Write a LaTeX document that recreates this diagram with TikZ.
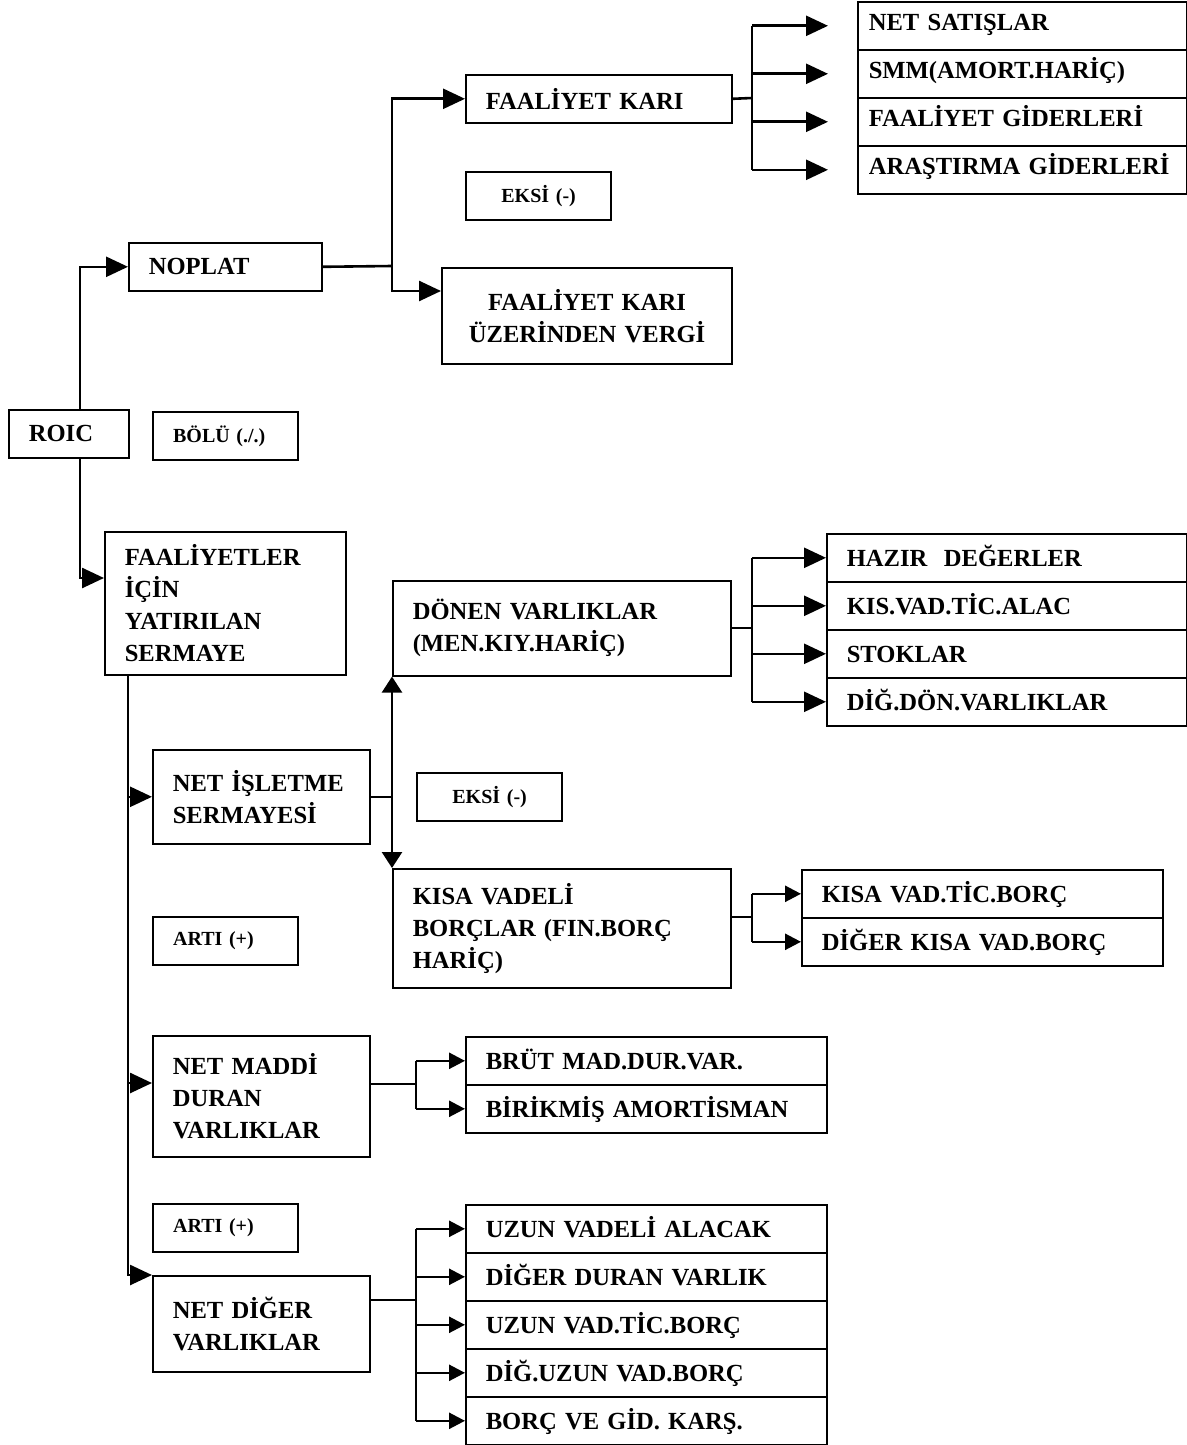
\documentclass[tikz,border=0pt]{standalone}
\usepackage{fontspec}
\setmainfont{Liberation Serif}
\usetikzlibrary{arrows.meta,calc}
\begin{document}
\hyphenpenalty=10000
\exhyphenpenalty=10000
\begin{tikzpicture}[x=0.5pt,y=-0.5pt,
  box/.style={draw, line width=0.8pt, anchor=north west, inner xsep=10pt, inner ysep=0pt, align=left,
    font=\fontsize{12.3}{16}\selectfont\bfseries},
  lab/.style={draw, line width=1.1pt, anchor=north west, inner xsep=10pt, inner ysep=0pt, align=left,
    text width=52.5pt, minimum height=24pt, font=\fontsize{10}{12}\selectfont\bfseries},
  row/.style={box, minimum height=24pt, text width=160.5pt, text height=10pt, text depth=1pt},
  conn/.style={line width=1.3pt},
  arr/.style={conn,-{Triangle[length=11pt,width=10pt]}},
  sarr/.style={conn,-{Triangle[length=8pt,width=8pt]}},
  darr/.style={conn,{Triangle[length=8pt,width=10pt]}-{Triangle[length=8pt,width=10pt]}}]
\useasboundingbox (0,0) rectangle (1187,1445);

% main boxes
\node[box, text width=40pt, minimum height=24pt] (roic) at (8,409) {ROIC};
\node[lab] (bolu) at (152,411) {BÖLÜ (./.)};
\node[box, text width=76.5pt, minimum height=24pt] (noplat) at (128,242) {NOPLAT};
\node[box, text width=113pt, minimum height=24pt] (fk) at (465,74) {FAALİYET KARI};
\node[lab, align=center] (eksia) at (465,171) {EKSİ (-)};
\node[box, line width=1.1pt, text width=125pt, minimum height=48pt, align=center] (fkv) at (441,267) {FAALİYET KARI\\ÜZERİNDEN VERGİ};
\node[box, text width=100.5pt, minimum height=71.5pt] (fiys) at (104,531) {FAALİYETLER\\İÇİN\\YATIRILAN\\SERMAYE};
\node[box, text width=88.5pt, minimum height=47pt] (nis) at (152,749) {NET İŞLETME\\SERMAYESİ};
\node[lab, align=center] (eksib) at (416,772) {EKSİ (-)};
\node[box, text width=149pt, minimum height=47.5pt] (donen) at (392,580) {DÖNEN VARLIKLAR\\(MEN.KIY.HARİÇ)};
\node[box, text width=149pt, minimum height=59.5pt] (kvb) at (392,868) {KISA VADELİ\\BORÇLAR (FIN.BORÇ\\HARİÇ)};
\node[lab] (artia) at (152,916) {ARTI (+)};
\node[box, text width=88.5pt, minimum height=60.5pt] (nmdv) at (152,1035) {NET MADDİ\\DURAN\\VARLIKLAR};
\node[lab] (artib) at (152,1203) {ARTI (+)};
\node[box, text width=88.5pt, minimum height=48pt] (ndv) at (152,1275) {NET DİĞER\\VARLIKLAR};

% list 1
\begin{scope}[every node/.style={row, inner xsep=5.5pt, text width=153.5pt, text height=9pt, text depth=4.5pt}]
\node (l1a) at (857,1) {NET SATIŞLAR};
\node (l1b) at (857,49) {SMM(AMORT.HARİÇ)};
\node (l1c) at (857,97) {FAALİYET GİDERLERİ};
\node (l1d) at (857,145) {ARAŞTIRMA GİDERLERİ};
\end{scope}
% list 2
\begin{scope}[every node/.style={row, text width=160pt}]
\node (l2a) at (826,533) {HAZIR~ DEĞERLER};
\node (l2b) at (826,581) {KIS.VAD.TİC.ALAC};
\node (l2c) at (826,629) {STOKLAR};
\node (l2d) at (826,677) {DİĞ.DÖN.VARLIKLAR};
\end{scope}
% list 3
\node[row] (l3a) at (801,869) {KISA VAD.TİC.BORÇ};
\node[row] (l3b) at (801,917) {DİĞER KISA VAD.BORÇ};
% list 4
\node[row] (l4a) at (465,1036) {BRÜT MAD.DUR.VAR.};
\node[row] (l4b) at (465,1084) {BİRİKMİŞ AMORTİSMAN};
% list 5
\node[row] (l5a) at (465,1204) {UZUN VADELİ ALACAK};
\node[row] (l5b) at (465,1252) {DİĞER DURAN VARLIK};
\node[row] (l5c) at (465,1300) {UZUN VAD.TİC.BORÇ};
\node[row] (l5d) at (465,1348) {DİĞ.UZUN VAD.BORÇ};
\node[row] (l5e) at (465,1396) {BORÇ VE GİD. KARŞ.};

% trunk coordinates
\coordinate (xa) at (80,0);
\coordinate (xb) at (128,0);
\coordinate (b1) at (392,266);
\coordinate (b2) at (752,98);
\coordinate (b3) at (752,628);
\coordinate (b4) at (752,917);
\coordinate (b5) at (416,1084);
\coordinate (b6) at (416,1300);
\coordinate (fiysin) at ($(fiys.north west)+(0,47)$);
\coordinate (fkvin) at ($(fkv.north west)+(0,24)$);
\coordinate (nmin) at ($(nmdv.north west)+(0,48)$);

% ROIC branches
\draw[arr] (roic.north -| xa) |- (noplat.west);
\draw[arr] (roic.south -| xa) |- (fiysin);

% NOPLAT branches
\draw[conn] (noplat.east) -- (b1);
\draw[arr] (b1) |- (fk.west);
\draw[arr] (b1) |- (fkvin);

% FK -> list 1
\draw[conn] (fk.east) -- (b2);
\draw[conn] (b2 |- l1a.west) -- (b2 |- l1d.west);
\foreach \r in {l1a,l1b,l1c,l1d}{
  \draw[arr] (b2 |- \r.west) -- ($(\r.west)+(-29,0)$);
}

% trunk of invested capital
\draw[arr] (fiys.south -| xb) |- (ndv.north west);
\draw[arr] (nis.west -| xb) -- (nis.west);
\draw[arr] (nmin -| xb) -- (nmin);

% NIS -> donen / kvb
\draw[conn] (nis.east) -- (nis.east -| donen.south west);
\draw[darr] (donen.south west) -- (kvb.north west);

% donen -> list 2
\draw[conn] (donen.east |- b3) -- (b3);
\draw[conn] (b3 |- l2a.west) -- (b3 |- l2d.west);
\foreach \r in {l2a,l2b,l2c,l2d}{
  \draw[arr] (b3 |- \r.west) -- (\r.west);
}

% kvb -> list 3
\draw[conn] (kvb.east |- b4) -- (b4);
\draw[conn] (b4 |- l3a.west) -- (b4 |- l3b.west);
\foreach \r in {l3a,l3b}{
  \draw[sarr] (b4 |- \r.west) -- (\r.west);
}

% nmdv -> list 4
\draw[conn] (nmdv.east |- b5) -- (b5);
\draw[conn] (b5 |- l4a.west) -- (b5 |- l4b.west);
\foreach \r in {l4a,l4b}{
  \draw[sarr] (b5 |- \r.west) -- (\r.west);
}

% ndv -> list 5
\draw[conn] (ndv.east |- b6) -- (b6);
\draw[conn] (b6 |- l5a.west) -- (b6 |- l5e.west);
\foreach \r in {l5a,l5b,l5c,l5d,l5e}{
  \draw[sarr] (b6 |- \r.west) -- (\r.west);
}
\end{tikzpicture}
\end{document}
